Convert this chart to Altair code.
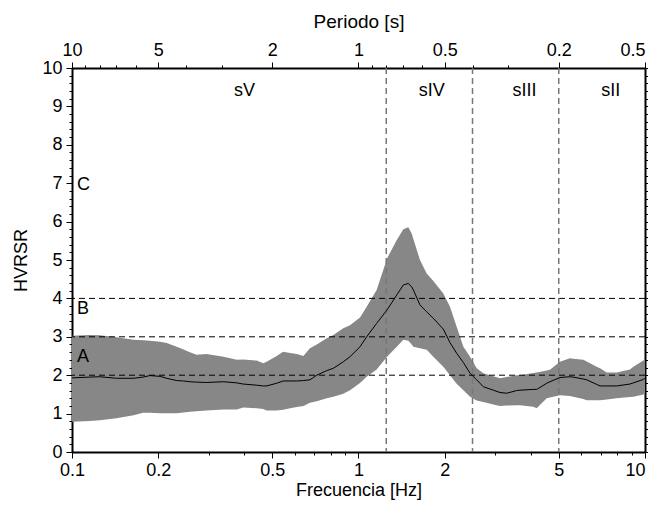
import altair as alt
import pandas as pd

# ---------------- data ----------------
freq = [0.100, 0.115, 0.125, 0.143, 0.164, 0.177, 0.187, 0.203, 0.214, 0.232,
        0.245, 0.258, 0.272, 0.295, 0.338, 0.376, 0.396, 0.441, 0.465, 0.478,
        0.518, 0.546, 0.577, 0.609, 0.642, 0.677, 0.715, 0.775, 0.817, 0.885,
        0.934, 1.012, 1.068, 1.157, 1.258, 1.360, 1.434, 1.493, 1.533, 1.554,
        1.639, 1.730, 1.825, 1.977, 2.086, 2.201, 2.323, 2.451, 2.585, 2.728,
        2.955, 3.118, 3.290, 3.565, 3.660, 4.077, 4.188, 4.539, 4.660, 5.050,
        5.470, 5.620, 6.090, 6.260, 6.780, 6.970, 7.350, 7.960, 8.860, 9.110,
        9.870, 10.00]
hv_mean = [1.93, 1.95, 1.96, 1.92, 1.92, 1.95, 1.99, 1.97, 1.92, 1.86,
           1.85, 1.83, 1.82, 1.81, 1.83, 1.80, 1.77, 1.74, 1.72, 1.72,
           1.79, 1.85, 1.85, 1.85, 1.86, 1.88, 2.00, 2.12, 2.18, 2.35,
           2.48, 2.74, 3.00, 3.35, 3.70, 4.09, 4.35, 4.39, 4.30, 4.22,
           3.83, 3.65, 3.48, 3.20, 2.85, 2.57, 2.33, 2.05, 1.88, 1.70,
           1.61, 1.55, 1.53, 1.60, 1.61, 1.63, 1.63, 1.79, 1.83, 1.94,
           1.96, 1.95, 1.90, 1.88, 1.76, 1.72, 1.72, 1.72, 1.77, 1.80,
           1.89, 1.92]
hv_upper = [3.03, 3.05, 3.04, 2.99, 2.92, 2.91, 2.90, 2.87, 2.84, 2.74,
            2.67, 2.60, 2.53, 2.55, 2.48, 2.40, 2.41, 2.38, 2.31, 2.35,
            2.50, 2.61, 2.58, 2.55, 2.50, 2.70, 2.80, 2.96, 3.05, 3.22,
            3.30, 3.50, 3.78, 4.22, 5.04, 5.52, 5.80, 5.85, 5.69, 5.55,
            5.00, 4.65, 4.45, 4.13, 3.78, 3.26, 2.74, 2.48, 2.18, 2.05,
            1.97, 1.92, 1.95, 2.00, 2.00, 2.06, 2.07, 2.12, 2.14, 2.35,
            2.44, 2.43, 2.40, 2.36, 2.22, 2.18, 2.07, 2.07, 2.15, 2.22,
            2.38, 2.40]
hv_lower = [0.79, 0.81, 0.83, 0.88, 0.96, 1.02, 1.02, 1.01, 1.01, 1.01,
            1.03, 1.05, 1.06, 1.08, 1.11, 1.11, 1.16, 1.14, 1.12, 1.08,
            1.08, 1.10, 1.14, 1.17, 1.20, 1.28, 1.32, 1.40, 1.44, 1.52,
            1.61, 1.80, 1.96, 2.15, 2.48, 2.74, 2.92, 2.90, 2.80, 2.74,
            2.70, 2.66, 2.48, 2.22, 2.00, 1.78, 1.61, 1.44, 1.34, 1.30,
            1.24, 1.20, 1.21, 1.22, 1.22, 1.18, 1.14, 1.40, 1.42, 1.48,
            1.46, 1.44, 1.38, 1.35, 1.35, 1.35, 1.37, 1.40, 1.43, 1.44,
            1.50, 1.51]

zone_bounds_hz = [1.25, 2.5, 5.0]
class_levels = [2, 3, 4]
zone_names = ["sV", "sIV", "sIII", "sII"]
zone_label_hz = [0.40, 1.80, 3.80, 7.60]
zone_label_y = [9.4, 9.4, 9.4, 9.4]
class_names = ["A", "B", "C"]
class_label_hz = [0.104, 0.104, 0.104]
class_label_y = [2.47, 3.72, 6.95]

freq_ticks = [0.1, 0.2, 0.3, 0.4, 0.5, 0.6, 0.7, 0.8, 0.9,
              1, 2, 3, 4, 5, 6, 7, 8, 9, 10]
freq_major = [0.1, 0.2, 0.5, 1, 2, 5, 10]
freq_major_text = ["0.1", "0.2", "0.5", "1", "2", "5", "10"]
period_ticks = [10, 9, 8, 7, 6, 5, 4, 3, 2, 1,
                0.9, 0.8, 0.7, 0.6, 0.5, 0.4, 0.3, 0.2, 0.1]
period_major = [10, 5, 2, 1, 0.5, 0.2, 0.1]
period_major_text = ["10", "5", "2", "1", "0.5", "0.2", "0.5"]
hvsr_ticks = [i / 5 for i in range(51)]

FONT = "Liberation Sans"


def near(vals):
    return "(" + " || ".join(f"abs(datum.value - {v}) < 1e-6" for v in vals) + ")"


def labels(vals, texts):
    expr = "''"
    for v, t in reversed(list(zip(vals, texts))):
        expr = f"abs(datum.value - {v}) < 1e-6 ? '{t}' : ({expr})"
    return expr


top_vals = [1.0 / t for t in period_ticks]
top_major = [1.0 / t for t in period_major]
edge_align = {"condition": {"test": "datum.value > 9.9", "value": "right"}, "value": "center"}

df = pd.DataFrame({"f": freq, "mean": hv_mean, "up": hv_upper, "lo": hv_lower})
xs = alt.Scale(type="log", domain=[0.1, 10], nice=False)
ys = alt.Scale(domain=[0, 10], nice=False, zero=False)

common = dict(domainColor="black", domainWidth=2, tickColor="black", tickWidth=1,
              labelFont=FONT, labelFontSize=18, labelColor="black",
              titleFont=FONT, titleFontSize=19, titleFontWeight="normal",
              titleColor="black", grid=False, labelOverlap=False, labelFlush=False)

bottom_axis = alt.Axis(orient="bottom", values=freq_ticks,
                       labelExpr=labels(freq_major, freq_major_text),
                       labelAlign=edge_align,
                       tickSize={"condition": {"test": near(freq_major), "value": 6}, "value": 3},
                       labelPadding=3, title="Frecuencia [Hz]", titlePadding=2,
                       **{**common, "titleFontSize": 18})
top_axis = alt.Axis(orient="top", values=top_vals,
                    labelExpr=labels(top_major, period_major_text),
                    labelAlign=edge_align,
                    tickSize={"condition": {"test": near(top_major), "value": 6}, "value": 3},
                    labelPadding=3, title="Periodo [s]", titlePadding=10, **common)
left_axis = alt.Axis(orient="left", values=hvsr_ticks,
                     labelExpr="floor(datum.value) == datum.value ? format(datum.value, 'd') : ''",
                     tickSize={"condition": {"test": "floor(datum.value) == datum.value", "value": 6}, "value": 3},
                     labelPadding=4, title="HVRSR", titlePadding=11,
                     **{**common, "titleFontSize": 18})
right_axis = alt.Axis(orient="right", values=hvsr_ticks, labels=False, title=None,
                      tickSize={"condition": {"test": "floor(datum.value) == datum.value", "value": 6}, "value": 3},
                      **common)

band = alt.Chart(df).mark_area(color="#878787", opacity=1).encode(
    x=alt.X("f:Q", scale=xs, axis=bottom_axis),
    y=alt.Y("up:Q", scale=ys, axis=left_axis),
    y2="lo:Q",
)

hl = alt.Chart(pd.DataFrame({"lev": class_levels})).mark_rule(
    color="black", strokeDash=[6, 4], strokeWidth=1).encode(
    y=alt.Y("lev:Q", scale=ys, axis=None))

vl = alt.Chart(pd.DataFrame({"hz": zone_bounds_hz})).mark_rule(
    color="#777777", strokeDash=[6, 4], strokeWidth=1.5).encode(
    x=alt.X("hz:Q", scale=xs, axis=None))

line = alt.Chart(df).mark_line(color="black", strokeWidth=1).encode(
    x=alt.X("f:Q", scale=xs, axis=None),
    y=alt.Y("mean:Q", scale=ys, axis=None),
)

zones = alt.Chart(pd.DataFrame({"hz": zone_label_hz, "v": zone_label_y, "t": zone_names})).mark_text(
    font=FONT, fontSize=18, color="black", align="center", baseline="middle").encode(
    x=alt.X("hz:Q", scale=xs, axis=None), y=alt.Y("v:Q", scale=ys, axis=None), text="t:N")

classes = alt.Chart(pd.DataFrame({"hz": class_label_hz, "v": class_label_y, "t": class_names})).mark_text(
    font=FONT, fontSize=18, color="black", align="left", baseline="middle").encode(
    x=alt.X("hz:Q", scale=xs, axis=None), y=alt.Y("v:Q", scale=ys, axis=None), text="t:N")

frame = alt.Chart(df).mark_line(opacity=0).encode(
    x=alt.X("f:Q", scale=xs, axis=top_axis),
    y=alt.Y("mean:Q", scale=ys, axis=right_axis),
)

chart = alt.layer(band, hl, vl, line, zones, classes, frame).resolve_axis(
    x="independent", y="independent"
).properties(
    width=573, height=384,
    autosize=alt.AutoSizeParams(type="none"),
    padding={"left": 64, "top": 60, "right": 3, "bottom": 50},
    background="white",
).configure_view(stroke=None)

chart.save("out.html", embed_options={"renderer": "svg", "actions": False})
